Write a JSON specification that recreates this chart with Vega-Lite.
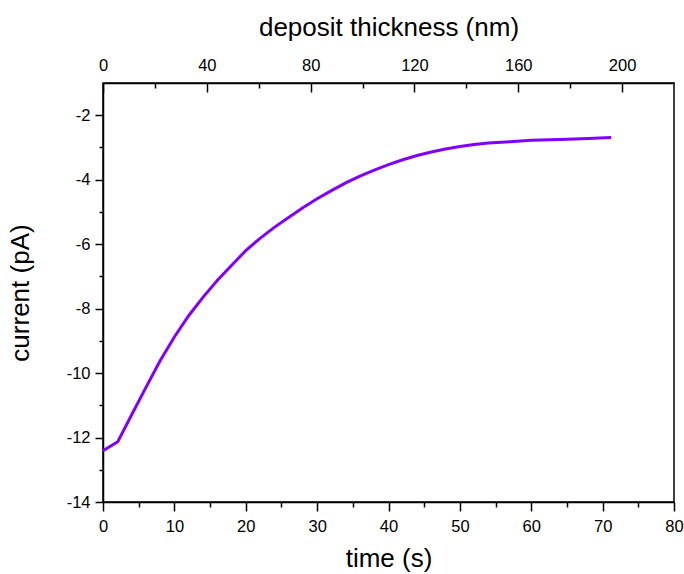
{
  "$schema": "https://vega.github.io/schema/vega-lite/v6.json",
  "width": 571,
  "height": 419,
  "autosize": {"type": "none"},
  "padding": {"left": 103, "top": 83, "right": 10, "bottom": 72},
  "background": "white",
  "config": {
    "view": {"stroke": "#000", "strokeWidth": 1.5},
    "font": "Liberation Sans",
    "axis": {
      "grid": false,
      "domainColor": "#000",
      "domainWidth": 1.5,
      "tickColor": "#000",
      "tickWidth": 1.5,
      "labelColor": "#000",
      "titleColor": "#000",
      "labelFont": "Liberation Sans",
      "titleFont": "Liberation Sans",
      "labelFontSize": 16.5,
      "titleFontSize": 26,
      "titleFontWeight": "normal"
    }
  },
  "resolve": {"scale": {"x": "independent"}, "axis": {"x": "independent"}},
  "layer": [
    {
      "data": {
        "values": [
          {"time": 0, "current": -12.41},
          {"time": 2.07, "current": -12.13},
          {"time": 4, "current": -11.3},
          {"time": 6, "current": -10.45},
          {"time": 8, "current": -9.62},
          {"time": 10, "current": -8.88},
          {"time": 12, "current": -8.22},
          {"time": 14, "current": -7.65},
          {"time": 16, "current": -7.13},
          {"time": 18, "current": -6.66},
          {"time": 20, "current": -6.2},
          {"time": 22, "current": -5.82},
          {"time": 24, "current": -5.48},
          {"time": 26, "current": -5.17},
          {"time": 28, "current": -4.87},
          {"time": 30, "current": -4.59},
          {"time": 32, "current": -4.34},
          {"time": 34, "current": -4.1},
          {"time": 36, "current": -3.89},
          {"time": 38, "current": -3.7},
          {"time": 40, "current": -3.53},
          {"time": 42, "current": -3.38},
          {"time": 44, "current": -3.25},
          {"time": 46, "current": -3.14},
          {"time": 48, "current": -3.05},
          {"time": 50, "current": -2.97},
          {"time": 52, "current": -2.91},
          {"time": 54, "current": -2.86},
          {"time": 57, "current": -2.82},
          {"time": 60, "current": -2.78},
          {"time": 64, "current": -2.75},
          {"time": 68, "current": -2.72},
          {"time": 71.2, "current": -2.69}
        ]
      },
      "mark": {"type": "line", "color": "#8000ff", "strokeWidth": 3},
      "encoding": {
        "x": {
          "field": "time",
          "type": "quantitative",
          "scale": {"domain": [0, 80], "nice": false, "zero": false},
          "axis": {
            "orient": "bottom",
            "title": "time (s)",
            "values": [0, 5, 10, 15, 20, 25, 30, 35, 40, 45, 50, 55, 60, 65, 70, 75, 80],
            "labelExpr": "datum.value % 10 === 0 ? datum.label : ''",
            "tickSize": {"condition": {"test": "datum.value % 10 === 0", "value": 9}, "value": 5},
            "labelPadding": 7,
            "titlePadding": 11,
            "labelFlush": false,
            "labelOverlap": false
          }
        },
        "y": {
          "field": "current",
          "type": "quantitative",
          "scale": {"domain": [-14, -1], "nice": false, "zero": false},
          "axis": {
            "title": "current (pA)",
            "values": [-14, -13, -12, -11, -10, -9, -8, -7, -6, -5, -4, -3, -2],
            "labelExpr": "datum.value % 2 === 0 ? replace(datum.label, '−', '-') : ''",
            "tickSize": {"condition": {"test": "datum.value % 2 === 0", "value": 8}, "value": 4},
            "labelPadding": 5,
            "titlePadding": 33,
            "labelFlush": false,
            "labelOverlap": false
          }
        }
      }
    },
    {
      "data": {"values": [{"thickness": 0}, {"thickness": 220}]},
      "mark": {"type": "point", "opacity": 0},
      "encoding": {
        "x": {
          "field": "thickness",
          "type": "quantitative",
          "scale": {"domain": [0, 220], "nice": false, "zero": false},
          "axis": {
            "orient": "top",
            "title": "deposit thickness (nm)",
            "values": [0, 20, 40, 60, 80, 100, 120, 140, 160, 180, 200],
            "labelExpr": "datum.value % 40 === 0 ? datum.label : ''",
            "tickSize": {"condition": {"test": "datum.value % 40 === 0", "value": -9}, "value": -5},
            "labelPadding": 19,
            "titlePadding": 13,
            "labelFlush": false,
            "labelOverlap": false
          }
        }
      }
    }
  ]
}
